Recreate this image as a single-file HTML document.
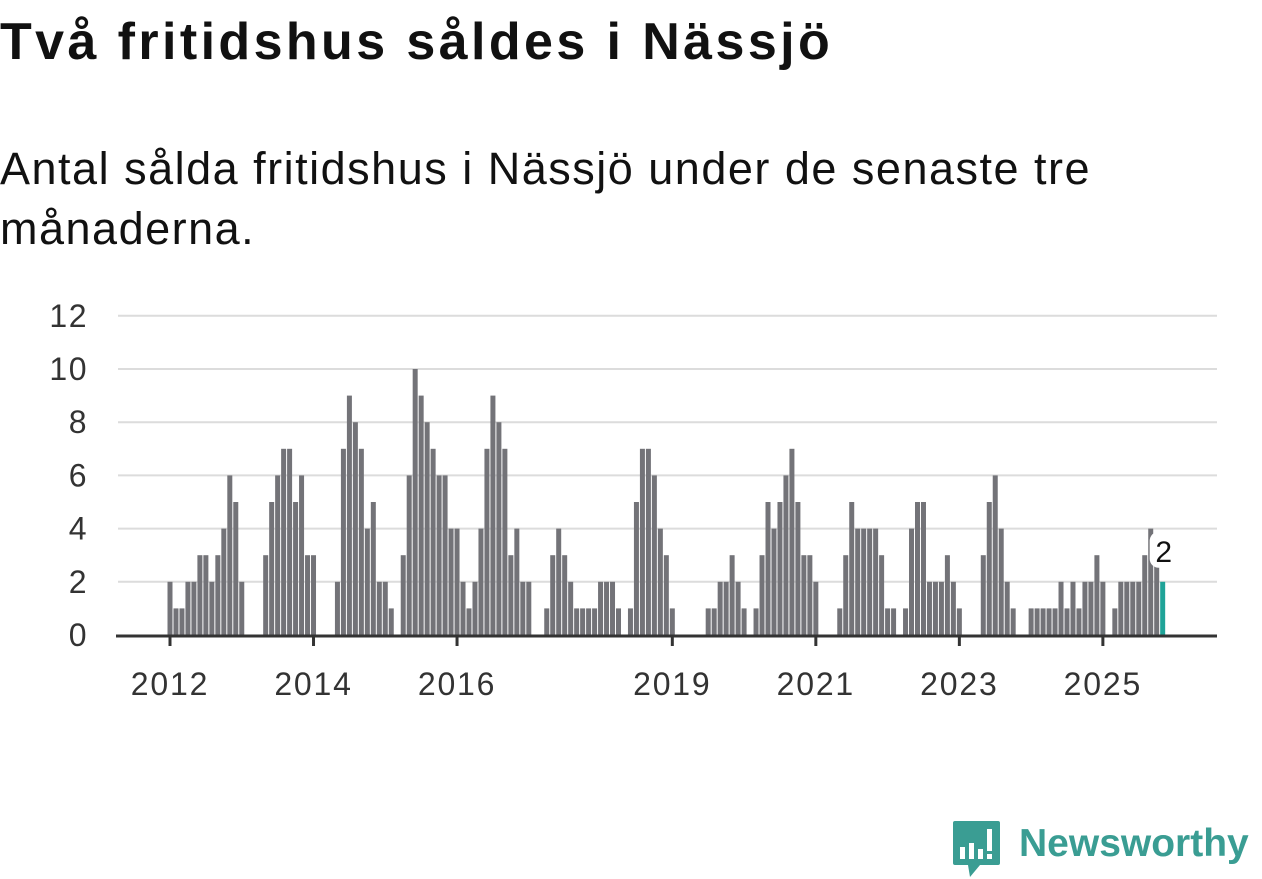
<!DOCTYPE html>
<html><head><meta charset="utf-8">
<style>
body{margin:0;width:1262px;height:879px;background:#fff;overflow:hidden;font-family:"Liberation Sans","DejaVu Sans",sans-serif;color:#111;position:relative}
#title{position:absolute;left:0;top:12px;font-size:52px;font-weight:bold;margin:0;letter-spacing:3.4px;white-space:nowrap}
#sub{position:absolute;left:0;top:139px;font-size:45px;line-height:60px;width:1240px;letter-spacing:1.5px;white-space:nowrap}
svg{position:absolute;left:0;top:0}
</style></head><body>
<h1 id="title">Två fritidshus såldes i Nässjö</h1>
<div id="sub">Antal sålda fritidshus i Nässjö under de senaste tre<br>månaderna.</div>
<svg id="chart" width="1262" height="879"></svg>
<div style="position:absolute;left:952px;top:819px;width:310px;height:60px">
<svg width="50" height="60" style="left:0;top:0">
<path d="M3 2 H46 Q48 2 48 4 V44 Q48 46 46 46 H28 L18 58 L16 46 H3 Q1 46 1 44 V4 Q1 2 3 2 Z" fill="#3a9d93"/>
<rect x="8" y="28" width="5" height="12" fill="#fff"/><rect x="17" y="24" width="5" height="16" fill="#fff"/><rect x="26" y="30" width="5" height="10" fill="#fff"/><rect x="35" y="10" width="5" height="22" fill="#fff"/><rect x="35" y="35" width="5" height="5" fill="#fff"/>
</svg>
<span style="position:absolute;left:67px;top:3px;font-size:39px;font-weight:bold;color:#3a9d93;font-family:'Liberation Sans',sans-serif;white-space:nowrap">Newsworthy</span>
</div>
<script>
const values = [2,1,1,2,2,3,3,2,3,4,6,5,2, 0,0,0, 3,5,6,7,7,5,6,3,3, 0,0,0, 2,7,9,8,7,4,5,2,2,1, 0,
3,6,10,9,8,7,6,6,4,4,2,1,2,4,7,9,8,7,3,4, 2,2, 0,0, 1,3,4,3,2,1,1,1,1,2,2,2,1, 0, 1,5,7,7,6,4,3,1, 0,0,0,0,0,
1,1,2,2,3,2,1, 0, 1,3,5,4,5,6,7,5,3,3,2, 0,0,0, 1,3,5,4,4,4,4,3,1,1, 0, 1,4,5,5,2,2,2,3,2,1, 0,0,0,
3,5,6,4,2,1, 0,0, 1,1,1,1,1,2,1,2,1,2,2,3,2, 0, 1,2,2,2,2,3,4,3,2];
const startYear = 2012;
const yTicks = [0,2,4,6,8,10,12];
const xTickYears = [2012,2014,2016,2019,2021,2023,2025];
const lastLabel = "2";

const svg = document.getElementById('chart');
const NS = 'http://www.w3.org/2000/svg';
const x0 = 170, slot = 5.98, y0 = 635, unit = 26.6;
const xs = i => x0 + i * slot;
const ys = v => y0 - v * unit;
function mk(t, a){const e=document.createElementNS(NS,t);for(const k in a)e.setAttribute(k,a[k]);svg.appendChild(e);return e;}
yTicks.forEach(v=>{
  if(v>0){const g=mk('line',{x1:118,x2:1217,y1:ys(v),y2:ys(v),stroke:'#dcdcdc','stroke-width':2});
  
  }
  const t=mk('text',{x:88,y:ys(v)+11,'text-anchor':'end','font-size':32,'letter-spacing':1.5,fill:'#333','font-family':'Liberation Sans, sans-serif'});
  t.textContent=v;
  
  
});
values.forEach((v,i)=>{
  if(v<=0)return;
  const last=i===values.length-1;
  const r=mk('rect',{x:xs(i)-2.5,y:ys(v),width:5,height:v*unit,fill:last?'#1fa398':'#737378'});
  
  
});
const ax=mk('line',{x1:116,x2:1217,y1:y0+1,y2:y0+1,stroke:'#333','stroke-width':3});


xTickYears.forEach(yr=>{
  const x=xs((yr-startYear)*12);
  const tk=mk('line',{x1:x,x2:x,y1:y0,y2:y0+11,stroke:'#333','stroke-width':3});
  
  
  const t=mk('text',{x:x,y:695,'text-anchor':'middle','font-size':32,'letter-spacing':1.8,fill:'#333','font-family':'Liberation Sans, sans-serif'});
  t.textContent=yr;
  
  
});
const li=values.length-1;
const bg=mk('rect',{x:xs(li)-13,y:ys(values[li])-50,width:28,height:36,rx:9,fill:'#fff'});


const lt=mk('text',{x:xs(li)+1,y:ys(values[li])-20,'text-anchor':'middle','font-size':30,fill:'#111','font-family':'Liberation Sans, sans-serif'});
lt.textContent=lastLabel;


</script>
</body></html>
